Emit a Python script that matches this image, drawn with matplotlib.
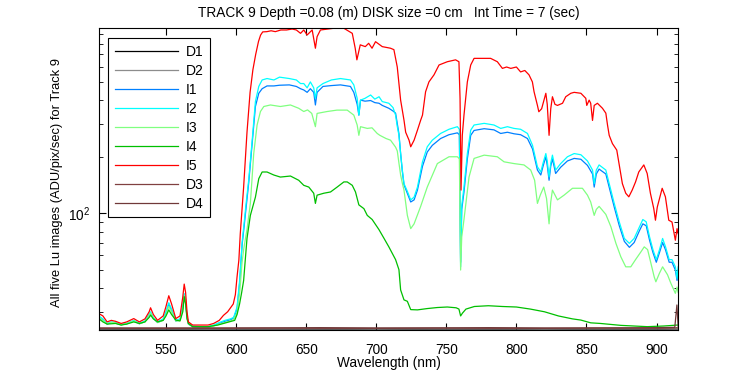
import numpy as np
import matplotlib
matplotlib.use("Agg")
import matplotlib.pyplot as plt
from matplotlib.ticker import LogLocator, NullFormatter, MultipleLocator

plt.rcParams['font.family'] = ['Liberation Sans', 'DejaVu Sans']

# ---------------- data ----------------
wl_i5 = [502, 505, 508, 511, 514, 518, 522, 527, 531, 535, 538, 539, 541, 544, 548, 550, 552, 554,
         557, 560, 562, 563, 564, 565, 566, 569, 575, 580, 584, 588, 591, 594, 596, 598, 599.5,
         600.7, 602, 603, 605.4, 607.8, 610, 612, 614, 616, 617.5, 619, 622, 625, 628, 632, 636,
         640, 643, 646, 648.3, 650.7, 654.3, 656.6, 657.8, 660.2, 669.7, 676.9, 682.9, 685, 686.2,
         688.6, 692.2, 694.6, 697, 699.5, 704.3, 710.2, 712.6, 715, 717.4, 719.8, 721, 723.4,
         724.6, 727, 729.4, 731.7, 733, 735.2, 737.6, 741.2, 744.8, 750.7, 756.6, 759, 759.8,
         760.5, 761.4, 762.6, 765, 767.4, 769.8, 775, 781.6, 786.4, 790, 793, 796, 800, 803, 806,
         809, 811.4, 812.6, 815, 816, 818, 821, 822, 823.3, 824.5, 825.7, 827.5, 829.3, 832.9,
         835.2, 838.8, 841.2, 846, 849.5, 850.2, 851.9, 853, 854.3, 855.5, 857.8, 861.4, 863.8,
         865, 866.2, 868.5, 871.6, 873.2, 875.6, 878, 880.2, 882.6, 885, 887.3, 890.9, 893.3,
         895.6, 898, 899.2, 900.5, 904, 906.3, 908.7, 911, 913.4, 914.6, 915.4]
i5 = [29.4, 28.5, 26.5, 27.0, 26.7, 26.0, 26.5, 27.6, 26.5, 27.5, 30.0, 31.5, 29.0, 27.0, 28.5,
      32.0, 36.5, 33.0, 27.6, 28.5, 36.0, 42.1, 38.0, 30.0, 26.5, 25.5, 25.5, 25.5, 26.0, 27.0,
      28.7, 30.0, 31.5, 33.0, 37.0, 46, 56.5, 78, 138, 270, 440, 580, 700, 820, 887, 922, 925,
      935, 925, 944, 944, 955, 944, 906, 944, 888, 944, 755, 870, 944, 964, 964, 906, 755, 655,
      787, 770, 802, 755, 818, 770, 755, 742, 600, 400, 313, 270, 245, 226, 245, 277, 313, 333,
      443, 500, 545, 615, 640, 655, 640, 408, 133, 260, 333, 500, 615, 667, 667, 667, 640, 590,
      600, 590, 600, 565, 575, 545, 500, 443, 375, 347, 360, 435, 380, 260, 360, 417, 380, 375,
      385, 417, 435, 440, 435, 409, 375, 400, 385, 312, 375, 385, 362, 341, 295, 260, 235, 217,
      184, 144, 128, 122.5, 133, 147, 166, 181, 163, 128, 106, 92, 108, 136, 122.5, 92, 90, 72,
      83, 78]

wl_mid = [502, 505, 508, 511, 514, 518, 522, 527, 531, 535, 539, 541, 544, 548, 550, 552, 554, 557,
          560, 562, 563, 564, 565, 566, 569, 575, 580, 584, 588, 592, 596, 598.3, 600.7, 602.6,
          604.3, 605.5, 607, 609, 611.4, 613.8, 616.2, 618.6, 622.1, 627, 631, 638, 643, 646,
          648.3, 650.7, 653, 655.4, 656.6, 657.8, 662, 668, 674.5, 681.6, 684, 686.4, 687.6,
          688.8, 692, 696, 699, 702, 704.3, 709, 712, 713.8, 715, 716.2, 717.4, 718.6, 719.8,
          722.2, 724.6, 727, 729.4, 733, 736.4, 740, 745.9, 751.9, 757.9, 759.3, 760.2, 761,
          762.6, 765, 767.4, 769.8, 777, 784, 788.8, 793.6, 798.3, 803, 807.9, 811.5, 815, 817.4,
          819, 821, 822, 823.3, 824.5, 825.7, 828, 831.6, 836.4, 841.2, 846, 850.7, 854.3, 855.5,
          857, 859, 863.8, 866.2, 869.8, 873.4, 877, 880.6, 884, 887.8, 890.2, 892.6, 895, 897.4,
          899.8, 902.1, 904.3, 906.4, 909, 911, 913.4, 914.6, 915.4]
i2 = [28.5, 27.5, 26.0, 26.5, 26.3, 25.7, 26.0, 27.0, 26.0, 26.8, 30.0, 28.0, 26.5, 27.5, 30.0,
      33.5, 31.0, 27.0, 27.5, 32.0, 37.5, 35.0, 28.5, 26.0, 25.2, 25.0, 25.0, 25.5, 26.3, 27.0,
      27.5, 28.0, 31.8, 44.4, 70, 85, 110, 150, 240, 393, 473, 512, 521, 512, 530, 521, 512, 490,
      490, 465, 500, 465, 409, 465, 490, 512, 521, 512, 482, 409, 333, 400, 409, 426, 405, 417,
      393, 385, 365, 333, 290, 260, 208, 170, 144, 131, 118, 122, 138, 188, 226, 245, 266, 280,
      289, 280, 52, 110, 138, 208, 277, 295, 301, 295, 283, 289, 283, 280, 266, 230, 177, 166,
      185, 208, 190, 156, 185, 204, 170, 184, 200, 208, 205, 190, 170, 144, 170, 181, 170, 144,
      113, 90, 73.6, 69.3, 73.6, 85, 92.8, 90.2, 75, 64.2, 56.8, 64.2, 73.6, 66.4, 56.8, 56.8,
      52, 45.1, 52]
i1 = [28.0, 27.2, 25.8, 26.3, 26.1, 25.6, 25.9, 26.8, 25.9, 26.6, 29.5, 27.7, 26.3, 27.2, 29.5,
      33.0, 30.5, 26.8, 27.2, 31.5, 36.5, 34.0, 28.2, 25.8, 25.0, 24.9, 24.9, 25.3, 26.0, 26.7,
      27.2, 27.8, 31.0, 43.0, 68, 82, 105, 145, 230, 370, 435, 460, 476, 476, 480, 482, 473, 460,
      453, 440, 460, 440, 377, 440, 473, 478, 482, 473, 440, 380, 333, 400, 395, 398, 388, 385,
      375, 362, 350, 341, 300, 265, 208, 168, 142, 128, 115, 118, 133, 178, 212, 230, 250, 262,
      268, 262, 55, 105, 130, 195, 260, 276, 282, 278, 266, 270, 265, 262, 250, 220, 170, 160,
      178, 200, 180, 150, 178, 195, 163, 176, 190, 196, 194, 180, 162, 138, 162, 172, 162, 138,
      108, 86, 71, 66, 70, 81, 88, 86, 72, 62, 55, 62, 70, 64, 55, 55, 50, 44, 50]

wl_i3 = [502, 505, 508, 511, 514, 518, 522, 527, 531, 535, 539, 541, 544, 548, 550, 552, 554, 557,
         560, 562, 563, 564, 565, 566, 569, 575, 580, 584, 588, 592, 596, 598.3, 600.7, 602.6,
         604.3, 605.5, 607.8, 610.2, 612.6, 615, 617.4, 619.8, 624.5, 631.6, 638.8, 644.7, 648.3,
         651, 654, 656.6, 657.8, 665, 672, 679.3, 684, 686.4, 687.6, 688.8, 693.6, 697, 700.7,
         702.6, 707, 710.2, 713.8, 715, 716.2, 717.4, 718.6, 719.8, 722.2, 724.6, 727, 731.7,
         736.4, 743.6, 751.9, 757.9, 759.3, 760.2, 761, 762.6, 766.2, 769.8, 777, 786.4, 791.2,
         798.3, 805.4, 810.2, 813, 815, 817, 819.5, 821.5, 823.3, 824.5, 825.7, 829.3, 834, 840,
         847.1, 850.7, 853, 855.5, 857, 859, 863.8, 867.4, 871, 874.5, 878, 881.6, 885, 888.8,
         891.2, 893.6, 896, 898.3, 899.5, 902, 904.3, 907.8, 910.2, 913.4, 914.6, 915.4]
i3 = [28.0, 27.0, 25.9, 26.3, 26.2, 25.6, 25.9, 26.8, 25.9, 26.5, 29.5, 27.7, 26.3, 27.0, 29.0,
      32.0, 30.0, 26.8, 27.0, 31.0, 36.5, 34.0, 28.0, 25.8, 25.0, 24.8, 24.8, 25.2, 25.8, 26.3,
      26.8, 27.3, 29.5, 38, 55, 65, 82, 113, 208, 295, 348, 370, 377, 370, 377, 362, 348, 355,
      340, 289, 340, 348, 354, 354, 333, 295, 260, 289, 283, 285, 266, 260, 250, 245, 225, 215,
      185, 160, 145, 133, 97.6, 83, 88, 109, 138, 184, 200, 200, 195, 50, 75, 92.8, 156, 196,
      204, 200, 188, 184, 181, 170, 150, 113, 125, 138, 120, 88, 115, 133, 118, 125, 136, 136,
      125, 115, 97.6, 105, 109, 98.8, 85, 69.3, 58.8, 52, 52, 56.8, 62.4, 66.4, 64.2, 54.2, 46,
      43.3, 48, 52, 47.2, 42.5, 37.6, 40.6, 38]

wl_i4 = [502, 505, 508, 511, 514, 518, 522, 527, 531, 535, 538, 539, 541, 544, 548, 550, 552, 554,
         557, 560, 562, 563, 564, 565, 566, 569, 575, 580, 587, 595, 599, 600.7, 602.5, 604,
         605.4, 606.6, 607.8, 610.2, 613.8, 616.2, 618.6, 622.1, 626.9, 631.6, 638.8, 644.7,
         648.3, 651.9, 655.4, 656.6, 657.8, 662.6, 667.4, 672.1, 676.9, 679.3, 682.9, 685.2,
         687.6, 691.2, 693.6, 697.1, 701.9, 705.4, 709, 713.8, 716.2, 717.4, 719.8, 722.2, 724.6,
         729.4, 736.4, 743.6, 750.7, 757, 759, 760.2, 761.5, 764, 770, 780, 790, 800, 810, 820,
         830, 840, 846, 853, 860, 874.5, 893.4, 905, 915]
i4 = [27.6, 26.5, 25.8, 25.9, 26.0, 25.5, 25.8, 26.5, 26.0, 26.5, 28.0, 28.8, 27.5, 26.5, 27.0,
      28.5, 30.7, 29.0, 27.1, 26.8, 30.0, 36.1, 33.0, 27.5, 26.0, 25.0, 25.0, 25.0, 25.5, 26.5,
      27.0, 29.0, 33.0, 38.0, 44.0, 57.0, 73.6, 97.6, 122, 153, 166, 166, 160, 156, 158, 150,
      141, 138, 128, 113, 125, 128, 130, 138, 147, 147, 141, 130, 111, 106, 97.6, 92.8, 82.1,
      74, 66.4, 56.8, 50.2, 39.2, 34.7, 34.1, 30.8, 30.7, 31.2, 31.6, 31.8, 31.5, 31.0, 28.5,
      29.5, 31.0, 32.0, 32.3, 32.0, 31.8, 31.0, 30.0, 28.5, 27.5, 27.1, 26.2, 26.0, 25.4, 25.0,
      25.2, 25.5]

wl_dark = [502, 540, 580, 620, 660, 700, 740, 780, 820, 860, 900, 913, 914.5, 915.4]
d1 = [24.2, 24.2, 24.3, 24.2, 24.2, 24.3, 24.2, 24.2, 24.3, 24.2, 24.2, 24.3, 24.3, 24.3]
d2 = [24.3, 24.3, 24.4, 24.3, 24.3, 24.4, 24.3, 24.3, 24.4, 24.3, 24.3, 24.4, 24.4, 24.4]
d3 = [24.5, 24.5, 24.5, 24.6, 24.5, 24.5, 24.6, 24.5, 24.5, 24.6, 24.5, 24.6, 24.7, 24.6]
d4 = [24.6, 24.6, 24.6, 24.6, 24.7, 24.6, 24.6, 24.7, 24.6, 24.6, 24.7, 24.8, 32.6, 25.0]

title = 'TRACK 9 Depth =0.08 (m) DISK size =0 cm   Int Time = 7 (sec)'

# ---------------- figure ----------------
fig = plt.figure(figsize=(7.5, 3.75), dpi=100)
ax = fig.add_axes([0.1316, 0.12, 0.7728, 0.8053])

series = [
    ('D1', wl_dark, d1, 'black'),
    ('D2', wl_dark, d2, '#8c8c8c'),
    ('I1', wl_mid, i1, '#0080ff'),
    ('I2', wl_mid, i2, '#00ffff'),
    ('I3', wl_i3, i3, '#80ff80'),
    ('I4', wl_i4, i4, '#00bf00'),
    ('I5', wl_i5, i5, '#ff0000'),
    ('D3', wl_dark, d3, '#804040'),
    ('D4', wl_dark, d4, '#703838'),
]
for name, x, y, c in series:
    ax.plot(x, y, color=c, lw=0.9, label=name)

ax.set_yscale('log')
ax.set_xlim(502, 915.5)
ax.set_ylim(24, 967)
ax.xaxis.set_major_locator(MultipleLocator(50))
ax.yaxis.set_major_locator(LogLocator(base=10))
ax.yaxis.set_minor_locator(LogLocator(base=10, subs=np.arange(2, 10)))
ax.yaxis.set_minor_formatter(NullFormatter())
ax.tick_params(which='both', direction='in', top=True, right=True, labelsize=9.8)
ax.tick_params(which='major', length=5)
ax.tick_params(which='minor', length=3)
ax.tick_params(axis='x', which='major', pad=9)
ax.tick_params(axis='y', which='major', pad=6)
for s in ax.spines.values():
    s.set_linewidth(0.8)

ax.set_xlabel('Wavelength (nm)', fontsize=9.8, labelpad=0)
ax.set_ylabel('All five Lu images (ADU/pix/sec) for Track 9', fontsize=9.3)
ax.yaxis.set_label_coords(-0.062, 0.49)
ax.set_title(title, fontsize=9.8, pad=8)

leg = ax.legend(loc='upper left', bbox_to_anchor=(0.0165, 0.966), fontsize=10,
                frameon=True, fancybox=False, edgecolor='black', framealpha=1,
                handlelength=4.6, handletextpad=0.55, labelspacing=0.36,
                borderpad=0.45, borderaxespad=0)
leg.get_frame().set_linewidth(0.8)

fig.savefig('out.png', dpi=100)
